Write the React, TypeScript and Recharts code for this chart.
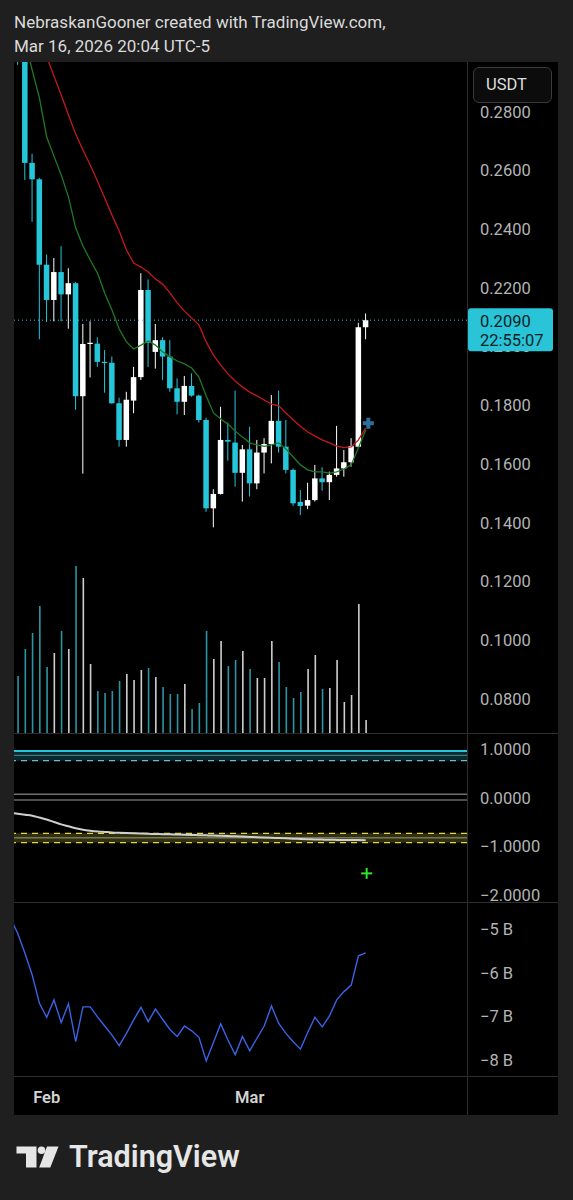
import React from 'react';
import {
  ComposedChart,
  Bar,
  Line,
  Scatter,
  XAxis,
  YAxis,
  ReferenceLine,
  ReferenceArea,
} from 'recharts';

if (typeof document !== 'undefined') {
  document.body.style.margin = '0';
  document.body.style.background = '#1f1f1f';
}

// daily candles, first entry (Jan 27) only feeds the lower panes
const dates = [
  'Jan 27', 'Jan 28', 'Jan 29', 'Jan 30', 'Jan 31',
  'Feb 1', 'Feb 2', 'Feb 3', 'Feb 4', 'Feb 5', 'Feb 6', 'Feb 7', 'Feb 8', 'Feb 9', 'Feb 10',
  'Feb 11', 'Feb 12', 'Feb 13', 'Feb 14', 'Feb 15', 'Feb 16', 'Feb 17', 'Feb 18', 'Feb 19', 'Feb 20',
  'Feb 21', 'Feb 22', 'Feb 23', 'Feb 24', 'Feb 25', 'Feb 26', 'Feb 27', 'Feb 28',
  'Mar 1', 'Mar 2', 'Mar 3', 'Mar 4', 'Mar 5', 'Mar 6', 'Mar 7', 'Mar 8', 'Mar 9', 'Mar 10',
  'Mar 11', 'Mar 12', 'Mar 13', 'Mar 14', 'Mar 15', 'Mar 16', 'Mar 17',
];

const open = [
  null, 0.318, 0.3, 0.2626, 0.257, 0.2279, 0.2159, 0.2254, 0.2178, 0.2216, 0.1831,
  0.2009, 0.201, 0.1948, 0.1945, 0.1807, 0.1682, 0.1816, 0.1896, 0.2193, 0.1982,
  0.2022, 0.1966, 0.1858, 0.1812, 0.1866, 0.1833, 0.175, 0.1449, 0.1498, 0.1682,
  0.1673, 0.157, 0.165, 0.1534, 0.1639, 0.1668, 0.1747, 0.1659, 0.158, 0.1471,
  0.1458, 0.1477, 0.1551, 0.1538, 0.1563, 0.1585, 0.1606, 0.1659, 0.2066,
];
const high = [
  null, 0.335, 0.302, 0.2657, 0.2575, 0.2314, 0.2302, 0.2342, 0.2267, 0.222, 0.2077,
  0.2086, 0.2032, 0.1988, 0.1966, 0.1826, 0.1846, 0.1931, 0.225, 0.2229, 0.2077,
  0.2032, 0.2022, 0.1892, 0.19, 0.1909, 0.1836, 0.1758, 0.1514, 0.1795, 0.1741,
  0.185, 0.1665, 0.1727, 0.1682, 0.1688, 0.1835, 0.185, 0.175, 0.1585, 0.1511,
  0.1536, 0.1597, 0.1589, 0.1574, 0.173, 0.1648, 0.1688, 0.2081, 0.2113,
];
const low = [
  null, 0.296, 0.2568, 0.2425, 0.2025, 0.2084, 0.2086, 0.2086, 0.2061, 0.1785, 0.1567,
  0.1895, 0.1931, 0.1843, 0.1805, 0.1659, 0.1659, 0.1773, 0.1886, 0.1931, 0.1925,
  0.1886, 0.1846, 0.1769, 0.1767, 0.1829, 0.1741, 0.1437, 0.1384, 0.1496, 0.1611,
  0.1523, 0.1472, 0.1489, 0.1514, 0.1568, 0.1602, 0.1639, 0.1568, 0.1457, 0.1426,
  0.1446, 0.1472, 0.1509, 0.1477, 0.1557, 0.1557, 0.1591, 0.1656, 0.2025,
];
const close = [
  null, 0.3, 0.2626, 0.257, 0.2279, 0.2159, 0.2254, 0.2178, 0.2216, 0.1831, 0.2009,
  0.2013, 0.1948, 0.1944, 0.1807, 0.1682, 0.1819, 0.1896, 0.2193, 0.2013, 0.2022,
  0.1966, 0.1858, 0.1812, 0.1866, 0.1833, 0.175, 0.1449, 0.1498, 0.1682, 0.1676,
  0.157, 0.165, 0.1534, 0.1639, 0.1668, 0.1747, 0.1659, 0.158, 0.1466, 0.1457,
  0.1477, 0.1551, 0.1538, 0.1563, 0.1585, 0.1606, 0.1661, 0.2066, 0.209,
];
// volume, millions
const volume = [
  null, 5.8, 8.5, 10.1, 12.8, 6.7, 8.1, 10.3, 8.5, 16.8, 15.6,
  7.0, 4.3, 4.1, 4.3, 5.3, 6.0, 5.4, 6.4, 6.6, 5.7,
  4.7, 4.0, 4.0, 5.0, 2.5, 3.1, 10.3, 7.5, 9.3, 6.8,
  7.4, 8.3, 6.5, 5.6, 5.6, 9.3, 7.2, 4.7, 3.6, 4.2,
  6.5, 7.9, 4.5, 4.6, 7.4, 3.2, 3.9, 13.0, 1.4,
];
const emaFast = [
  null, 0.3147, 0.3045, 0.2942, 0.2847, 0.2714, 0.2649, 0.2585, 0.251, 0.2404, 0.2343,
  0.2295, 0.2251, 0.2183, 0.2125, 0.206, 0.2016, 0.1992, 0.2005, 0.2019, 0.2005,
  0.1982, 0.1965, 0.1951, 0.1941, 0.1927, 0.1896, 0.1832, 0.1774, 0.1753, 0.1736,
  0.1712, 0.1692, 0.1672, 0.1665, 0.166, 0.1665, 0.1672, 0.1651, 0.1624, 0.1597,
  0.158, 0.1573, 0.1573, 0.1569, 0.1573, 0.1583, 0.1597, 0.1655, 0.1716,
];
const emaSlow = [
  null, 0.325, 0.318, 0.312, 0.305, 0.2987, 0.2922, 0.2857, 0.2789, 0.2724, 0.267,
  0.2619, 0.2564, 0.2506, 0.2448, 0.2394, 0.2329, 0.2285, 0.2271, 0.2254, 0.223,
  0.2213, 0.2183, 0.2149, 0.2121, 0.2097, 0.2074, 0.2016, 0.1971, 0.1937, 0.1907,
  0.1883, 0.1862, 0.1845, 0.1832, 0.1818, 0.1804, 0.1798, 0.1774, 0.175, 0.1729,
  0.1709, 0.1695, 0.1682, 0.1672, 0.1661, 0.1656, 0.1658, 0.1682, 0.1723,
];
const oscillator = [
  -0.31, -0.33, -0.35, -0.37, -0.41, -0.45, -0.5, -0.55, -0.59, -0.63,
  -0.66, -0.68, -0.695, -0.705, -0.715, -0.722, -0.728, -0.734, -0.74, -0.744,
  -0.748, -0.752, -0.756, -0.76, -0.764, -0.768, -0.772, -0.776, -0.781, -0.786,
  -0.791, -0.796, -0.802, -0.808, -0.814, -0.82, -0.826, -0.832, -0.838, -0.844,
  -0.85, -0.855, -0.86, -0.864, -0.868, -0.87, -0.872, -0.873, -0.874, -0.875,
];
// billions
const obv = [
  -4.75, -5.09, -5.55, -6.05, -6.7, -7.02, -6.62, -7.14, -6.71, -7.58,
  -6.78, -6.78, -7.01, -7.22, -7.43, -7.67, -7.39, -7.08, -6.79, -7.12,
  -6.83, -7.07, -7.3, -7.46, -7.22, -7.33, -7.48, -8.02, -7.6, -7.17,
  -7.54, -7.88, -7.46, -7.79, -7.5, -7.22, -6.76, -7.16, -7.39, -7.58,
  -7.75, -7.37, -7.02, -7.24, -6.99, -6.62, -6.43, -6.28, -5.61, -5.54,
];

const priceTicks = [0.08, 0.1, 0.12, 0.14, 0.16, 0.18, 0.2, 0.22, 0.24, 0.26, 0.28];
const oscTicks = [1, 0, -1, -2];
const obvTicks = [-5, -6, -7, -8];
const monthTicks = [4, 32];
const upperBand = [0.963, 0.874, 0.763];
const zeroLines = [0.07, -0.047];
const lowerBand = [-0.734, -0.825, -0.928];
const priceSignal = [{ i: 48.36, p: 0.1739 }];
const oscSignal = [{ i: 48.13, v: -1.56 }];

const rows = dates.map((date, k) => ({
  i: k - 1,
  date,
  o: open[k],
  h: high[k],
  l: low[k],
  c: close[k],
  range: high[k] == null ? null : [low[k], high[k]],
  vol: volume[k],
  fast: emaFast[k],
  slow: emaSlow[k],
  osc: oscillator[k],
  obv: obv[k],
}));
const candles = rows.filter((r) => r.o != null);
const lastClose = close[close.length - 1] as number;

const CYAN = '#26c6da';
const AXIS_TEXT = '#b4b4b4';
const FONT = 'Roboto, "Noto Sans", sans-serif';
const X_DOMAIN: [number, number] = [-0.51, 61.97];
const PRICE_DOMAIN: [number, number] = [0.06801, 0.29697];
const W = 544;
const AXIS_W = 91;
const GRID = '#2e2e2e';

const axisTick = { fill: AXIS_TEXT, fontSize: 16.5, fontFamily: FONT };

const Candle = (props: any) => {
  const { x, y, width, height, payload } = props;
  if (payload == null || payload.h == null) return null;
  const { o, h, l, c } = payload;
  const color = c >= o ? '#ffffff' : CYAN;
  const k = height / (h - l);
  const at = (v: number) => y + (h - v) * k;
  const cx = x + width / 2;
  const top = at(Math.max(o, c));
  const bottom = at(Math.min(o, c));
  return (
    <g>
      <line x1={cx} x2={cx} y1={y} y2={y + height} stroke={color} strokeWidth={1} />
      <rect x={cx - 2.75} y={top} width={5.5} height={Math.max(1.2, bottom - top)} fill={color} />
    </g>
  );
};

const VolumeBar = (props: any) => {
  const { x, y, width, height, payload } = props;
  if (!height || height <= 0) return null;
  const up = payload.c >= payload.o;
  const cx = x + width / 2;
  return (
    <rect
      x={cx - 0.8}
      y={y}
      width={1.6}
      height={height}
      fill={up ? '#e4e4e4' : '#35aebf'}
      fillOpacity={up ? 0.9 : 0.85}
    />
  );
};

const PlusMark = (size: number, thick: number, color: string) => (props: any) => {
  const { cx, cy } = props;
  return (
    <g>
      <rect x={cx - size / 2} y={cy - thick / 2} width={size} height={thick} fill={color} />
      <rect x={cx - thick / 2} y={cy - size / 2} width={thick} height={size} fill={color} />
    </g>
  );
};

const PriceTag = (props: any) => {
  const vb = props.viewBox;
  if (!vb) return null;
  const x = vb.x + vb.width + 1;
  const y = vb.y;
  return (
    <g fontFamily={FONT}>
      <rect x={x} y={y - 12} width={85} height={43} rx={3} fill="#29c4d8" />
      <text x={x + 12} y={y + 1} dy="0.355em" fontSize={16.5} fill="#0b1e23">
        {lastClose.toFixed(4)}
      </text>
      <text x={x + 12} y={y + 20} dy="0.355em" fontSize={16.5} fill="#0b1e23">
        22:55:07
      </text>
    </g>
  );
};

const hiddenX = (
  <XAxis type="number" dataKey="i" domain={X_DOMAIN} allowDataOverflow hide scale="linear" />
);

const App: React.FC = () => {
  return (
    <div style={{ position: 'relative', width: 573, height: 1200, background: '#1f1f1f', fontFamily: FONT }}>
      <svg width={573} height={1200} style={{ position: 'absolute', left: 0, top: 0 }}>
        <text x={14} y={28.3} fontSize={17} fill="#dadada" fontFamily={FONT}>
          NebraskanGooner created with TradingView.com,
        </text>
        <text x={14} y={51.7} fontSize={17} fill="#dadada" fontFamily={FONT}>
          Mar 16, 2026 20:04 UTC-5
        </text>
        <g fill="#e6e6e6">
          <path d="M16.5 1146.5 H36.5 V1167.5 H26 V1153.5 H16.5 Z" />
          <circle cx={41.5} cy={1150.3} r={3.8} />
          <path d="M47 1146.5 H58.5 L50.3 1167.5 H39.2 Z" />
        </g>
        <text x={69} y={1167.3} fontSize={30.5} fontWeight={600} fill="#e6e6e6" fontFamily={FONT}>
          TradingView
        </text>
      </svg>

      <div style={{ position: 'absolute', left: 14, top: 62, width: W, height: 1053, background: '#000' }}>
        {/* volume, underneath the candles */}
        <div style={{ position: 'absolute', left: 0, top: 0 }}>
          <ComposedChart width={W} height={672} data={candles} margin={{ top: 0, right: AXIS_W, bottom: 0, left: 0 }}>
            {hiddenX}
            <YAxis hide domain={[0, 67.2]} allowDataOverflow />
            <Bar dataKey="vol" barSize={2} shape={(p: any) => <VolumeBar {...p} />} isAnimationActive={false} />
          </ComposedChart>
        </div>

        {/* price pane */}
        <div style={{ position: 'absolute', left: 0, top: 0 }}>
          <ComposedChart width={W} height={672} data={candles} margin={{ top: 0, right: 0, bottom: 0, left: 0 }}>
            {hiddenX}
            <YAxis
              yAxisId="p"
              orientation="right"
              width={AXIS_W}
              type="number"
              domain={PRICE_DOMAIN}
              allowDataOverflow
              ticks={priceTicks}
              interval={0}
              tickFormatter={(v: number) => v.toFixed(4)}
              axisLine={false}
              tickLine={false}
              tickMargin={7}
              tick={axisTick}
            />
            <ReferenceLine yAxisId="p" y={lastClose} stroke={CYAN} strokeWidth={1} strokeDasharray="1 3" />
            <Line yAxisId="p" type="linear" dataKey="slow" stroke="#c3191e" strokeWidth={1.3} dot={false} isAnimationActive={false} />
            <Line yAxisId="p" type="linear" dataKey="fast" stroke="#1f7a22" strokeWidth={1.3} dot={false} isAnimationActive={false} />
            <Bar yAxisId="p" dataKey="range" barSize={6} shape={(p: any) => <Candle {...p} />} isAnimationActive={false} />
            <Scatter yAxisId="p" data={priceSignal} dataKey="p" shape={PlusMark(11, 4, '#2f6e9b')} isAnimationActive={false} />
          </ComposedChart>
        </div>

        {/* last price tag, above the price axis labels */}
        <div style={{ position: 'absolute', left: 0, top: 0 }}>
          <ComposedChart width={W} height={672} data={candles} margin={{ top: 0, right: AXIS_W, bottom: 0, left: 0 }}>
            {hiddenX}
            <YAxis hide domain={PRICE_DOMAIN} allowDataOverflow />
            <ReferenceLine
              y={lastClose}
              stroke="none"
              strokeOpacity={0}
              label={(p: any) => <PriceTag {...p} />}
            />
          </ComposedChart>
        </div>

        {/* oscillator pane */}
        <div style={{ position: 'absolute', left: 0, top: 672 }}>
          <ComposedChart width={W} height={169} data={rows} margin={{ top: 0, right: 0, bottom: 0, left: 0 }}>
            {hiddenX}
            <YAxis
              orientation="right"
              width={AXIS_W}
              type="number"
              domain={[-2.1711, 1.3134]}
              allowDataOverflow
              ticks={oscTicks}
              interval={0}
              tickFormatter={(v: number) => (v < 0 ? '\u2212' : '') + Math.abs(v).toFixed(4)}
              axisLine={false}
              tickLine={false}
              tickMargin={7}
              tick={axisTick}
            />
            <ReferenceArea y1={upperBand[2]} y2={upperBand[0]} fill="#0e3b42" fillOpacity={0.7} stroke="none" />
            <ReferenceArea y1={lowerBand[2]} y2={lowerBand[0]} fill="#35340f" fillOpacity={0.9} stroke="none" />
            <ReferenceLine y={upperBand[0]} stroke={CYAN} strokeWidth={1.8} />
            <ReferenceLine y={upperBand[1]} stroke="#4d8c94" strokeWidth={1} />
            <ReferenceLine y={upperBand[2]} stroke="#6fbac5" strokeWidth={1.2} strokeDasharray="6 5" />
            <ReferenceLine y={zeroLines[0]} stroke="#6e6e6e" strokeWidth={1.6} />
            <ReferenceLine y={zeroLines[1]} stroke="#9a9a9a" strokeWidth={1.2} />
            <ReferenceLine y={lowerBand[0]} stroke="#e3d641" strokeWidth={1.2} strokeDasharray="6 5" />
            <ReferenceLine y={lowerBand[1]} stroke="#77775a" strokeWidth={1.6} />
            <ReferenceLine y={lowerBand[2]} stroke="#e3d641" strokeWidth={1.2} strokeDasharray="6 5" />
            <Line type="monotone" dataKey="osc" stroke="#cfcfcf" strokeWidth={2} dot={false} isAnimationActive={false} />
            <Scatter data={oscSignal} dataKey="v" shape={PlusMark(11, 2, '#2ee62e')} isAnimationActive={false} />
          </ComposedChart>
        </div>

        {/* volume flow pane + time axis */}
        <div style={{ position: 'absolute', left: 0, top: 841 }}>
          <ComposedChart width={W} height={212} data={rows} margin={{ top: 0, right: 0, bottom: 0, left: 0 }}>
            <XAxis
              type="number"
              dataKey="i"
              domain={X_DOMAIN}
              allowDataOverflow
              scale="linear"
              ticks={monthTicks}
              interval={0}
              tickFormatter={(i: number) => dates[i + 1].slice(0, 3)}
              height={38}
              axisLine={false}
              tickLine={false}
              tickMargin={8}
              tick={{ fill: '#d4d4d4', fontSize: 16.5, fontWeight: 600, fontFamily: FONT }}
            />
            <YAxis
              orientation="right"
              width={AXIS_W}
              type="number"
              domain={[-8.3899, -4.3964]}
              allowDataOverflow
              ticks={obvTicks}
              interval={0}
              tickFormatter={(v: number) => `\u2212${Math.abs(v)} B`}
              axisLine={false}
              tickLine={false}
              tickMargin={7}
              tick={axisTick}
            />
            <Line type="linear" dataKey="obv" stroke="#3a63e6" strokeWidth={1.4} dot={false} isAnimationActive={false} />
          </ComposedChart>
        </div>

        {/* pane separators */}
        <div style={{ position: 'absolute', left: 0, top: 671, width: W, height: 1, background: GRID }} />
        <div style={{ position: 'absolute', left: 0, top: 840, width: W, height: 1, background: GRID }} />
        <div style={{ position: 'absolute', left: 0, top: 1014, width: W, height: 1, background: GRID }} />
        <div style={{ position: 'absolute', left: 453, top: 0, width: 1, height: 1053, background: GRID }} />

        <div
          style={{
            position: 'absolute',
            left: 459,
            top: 5,
            width: 79,
            height: 36,
            border: '1px solid #3a3a3a',
            borderRadius: 6,
            background: '#0c0c0c',
            boxSizing: 'border-box',
            color: '#dedede',
            fontSize: 16.5,
            lineHeight: '34px',
            paddingLeft: 12,
          }}
        >
          USDT
        </div>
      </div>
    </div>
  );
};

export default App;
